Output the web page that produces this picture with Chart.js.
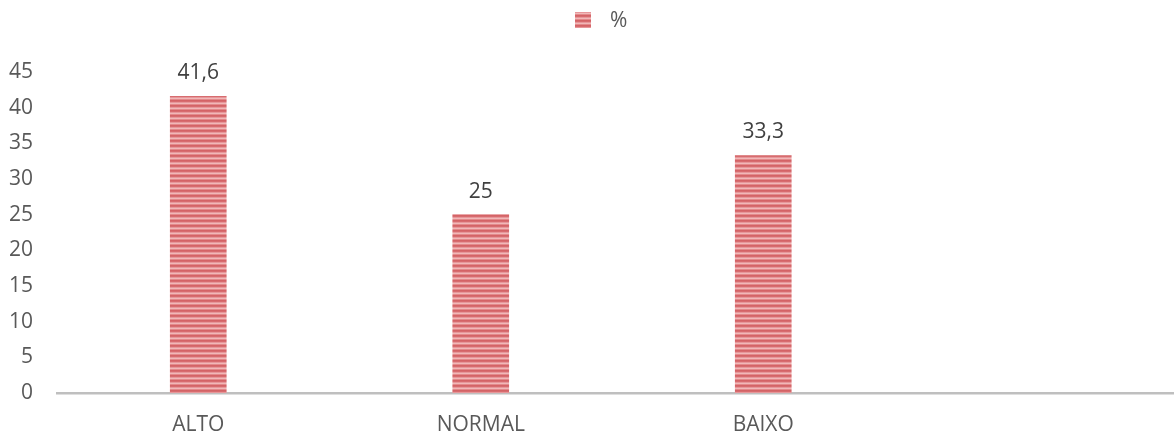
<!DOCTYPE html>
<html>
<head>
<meta charset="utf-8">
<script src="https://cdn.jsdelivr.net/npm/chart.js@4/dist/chart.umd.min.js"></script>
<style>
  html, body { margin: 0; padding: 0; background: #fff; overflow: hidden; }
  #wrap { width: 1187px; height: 432px; }
</style>
</head>
<body>
<div id="wrap"><canvas id="myChart"></canvas></div>
<script>
const categories = ['ALTO', 'NORMAL', 'BAIXO', ''];
const percent = [41.6, 25, 33.3, null];
const yTicks = [0, 5, 10, 15, 20, 25, 30, 35, 40, 45];

// horizontal stripes fill for the bars
function stripes() {
    const c = document.createElement('canvas');
    c.width = 5;
    c.height = 5;
    const g = c.getContext('2d');
    const rows = ['#d46366', '#d76c6f', '#e7979a', '#f1b8b8', '#e38a8c'];
    rows.forEach((col, i) => {
        g.fillStyle = col;
        g.fillRect(0, i, 5, 1);
    });
    return g.createPattern(c, 'repeat');
}
const fill = stripes();

const valueLabels = {
    id: 'valueLabels',
    afterDatasetsDraw(chart) {
        const ctx = chart.ctx;
        ctx.save();
        ctx.font = '21px "Open Sans"';
        ctx.fillStyle = '#404040';
        ctx.textAlign = 'center';
        ctx.textBaseline = 'alphabetic';
        chart.getDatasetMeta(0).data.forEach((bar, i) => {
            const v = percent[i];
            if (v == null) return;
            ctx.fillText(String(v).replace('.', ','), bar.x, bar.y - 17);
        });
        ctx.restore();
    }
};

const topLegend = {
    id: 'topLegend',
    afterDraw(chart) {
        const ctx = chart.ctx;
        const ds = chart.data.datasets[0];
        ctx.save();
        ctx.fillStyle = ds.backgroundColor;
        ctx.fillRect(575, 12, 16, 16);
        ctx.font = '21px "Open Sans"';
        ctx.fillStyle = '#595959';
        ctx.textBaseline = 'middle';
        ctx.fillText(ds.label, 610, 21);
        ctx.restore();
    }
};

var ctx = document.getElementById('myChart').getContext('2d');
var myChart = new Chart(ctx, { //eslint-disable-line
    type: 'bar',
    data: {
        labels: categories,
        datasets: [{
            label: '%',
            data: percent,
            backgroundColor: fill,
            borderWidth: 0,
            barThickness: 56
        }]
    },
    options: {
        responsive: true,
        maintainAspectRatio: false,
        animation: false,
        layout: { padding: { top: 72, right: 0, left: 0, bottom: 0 } },
        plugins: {
            legend: { display: false },
            tooltip: { enabled: false }
        },
        scales: {
            x: {
                grid: { display: false },
                border: { color: '#bfbfbf', width: 2.5 },
                ticks: {
                    color: '#595959',
                    font: { family: 'Open Sans', size: 21 },
                    padding: 11
                },
                afterFit(scale) { scale.height = 39; }
            },
            y: {
                min: 0,
                max: 45,
                grid: { display: false },
                border: { display: false },
                afterBuildTicks(scale) {
                    scale.ticks = yTicks.map(v => ({ value: v }));
                },
                ticks: {
                    color: '#595959',
                    font: { family: 'Open Sans', size: 21 },
                    padding: 16
                },
                afterFit(scale) { scale.width = 57; }
            }
        }
    },
    plugins: [valueLabels, topLegend]
});
</script>
</body>
</html>
